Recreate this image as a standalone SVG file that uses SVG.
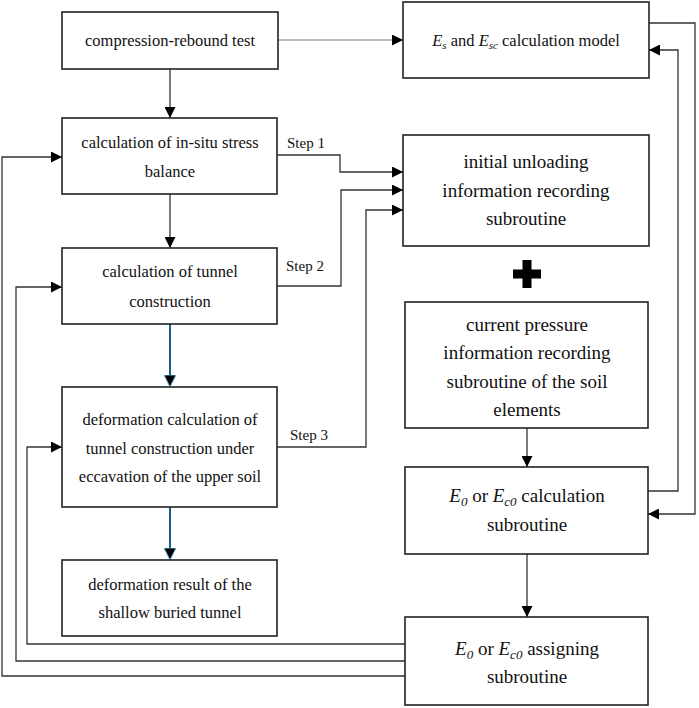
<svg xmlns="http://www.w3.org/2000/svg" width="699" height="708" viewBox="0 0 699 708">
<style>
  .box { fill: #fff; stroke: #222; stroke-width: 1.6; }
  .lbl { fill: #111; text-anchor: middle; font-family: 'Liberation Serif', serif !important; }
  .small { font-size: 16.5px; }
  .large { font-size: 19px; }
  .step { font-size: 15px; fill: #111; font-family: 'Liberation Serif', serif !important; }
  .conn { fill: none; stroke: #333; stroke-width: 1.3; }
  .thin { fill: none; stroke: #777; stroke-width: 1; }
  .blue { fill: none; stroke: #1e5f86; stroke-width: 2; }
  .ital { font-style: italic; }
</style>
<defs>
  <marker id="ah" markerUnits="userSpaceOnUse" markerWidth="11" markerHeight="11" refX="10" refY="5" orient="auto" viewBox="0 0 10 10">
    <path d="M0,0 L10,5 L0,10 z" fill="#000"/>
  </marker>
  <marker id="ahb" markerUnits="userSpaceOnUse" markerWidth="12" markerHeight="12" refX="10" refY="5" orient="auto" viewBox="0 0 10 10">
    <path d="M0,0 L10,5 L0,10 z" fill="#000" stroke="#6fb3dc" stroke-width="0.8"/>
  </marker>
</defs>
<rect width="699" height="708" fill="#fff"/>

<g id="connectors">
  <path class="thin" d="M278,40 H403" marker-end="url(#ah)"/>
  <path class="conn" d="M170,69 V118" marker-end="url(#ah)"/>
  <path class="conn" d="M170,194 V248" marker-end="url(#ah)"/>
  <path class="blue" d="M170,324 V387" marker-end="url(#ahb)"/>
  <path class="blue" d="M170,507 V560" marker-end="url(#ahb)"/>
  <path class="conn" d="M277,155 H340 V172 H403" marker-end="url(#ah)"/>
  <path class="conn" d="M277,286 H341 V190 H403" marker-end="url(#ah)"/>
  <path class="conn" d="M277,447 H366 V210 H403" marker-end="url(#ah)"/>
  <path class="conn" d="M527,428 V467" marker-end="url(#ah)"/>
  <path class="conn" d="M527,554 V617" marker-end="url(#ah)"/>
  <path class="conn" d="M649,23 H695 V514 H648" marker-end="url(#ah)"/>
  <path class="conn" d="M648,491 H678 V50 H649" marker-end="url(#ah)"/>
  <path class="conn" d="M405,644 H27 V447 H62" marker-end="url(#ah)"/>
  <path class="conn" d="M405,661 H16 V287 H62" marker-end="url(#ah)"/>
  <path class="conn" d="M405,676 H2 V157 H62" marker-end="url(#ah)"/>
  <text class="step" x="287" y="148">Step 1</text>
  <text class="step" x="286" y="271">Step 2</text>
  <text class="step" x="290" y="440">Step 3</text>
</g>

<g id="box-test">
  <rect class="box" x="62" y="12" width="216" height="57"/>
  <text class="lbl small" style="font-family:'Liberation Serif',serif" x="170" y="46">compression-rebound test</text>
</g>
<g id="box-stress">
  <rect class="box" x="62" y="118" width="215" height="76"/>
  <text class="lbl small" style="font-family:'Liberation Serif',serif" x="170" y="148">calculation of in-situ stress</text>
  <text class="lbl small" style="font-family:'Liberation Serif',serif" x="170" y="177">balance</text>
</g>
<g id="box-tunnel">
  <rect class="box" x="62" y="248" width="215" height="76"/>
  <text class="lbl small" style="font-family:'Liberation Serif',serif" x="170" y="277">calculation of tunnel</text>
  <text class="lbl small" style="font-family:'Liberation Serif',serif" x="170" y="307">construction</text>
</g>
<g id="box-deform">
  <rect class="box" x="62" y="387" width="215" height="120"/>
  <text class="lbl small" style="font-family:'Liberation Serif',serif" x="170" y="425">deformation calculation of</text>
  <text class="lbl small" style="font-family:'Liberation Serif',serif" x="170" y="454">tunnel construction under</text>
  <text class="lbl small" style="font-family:'Liberation Serif',serif" x="170" y="482">eccavation of the upper soil</text>
</g>
<g id="box-result">
  <rect class="box" x="62" y="560" width="215" height="76"/>
  <text class="lbl small" style="font-family:'Liberation Serif',serif" x="170" y="590">deformation result of the</text>
  <text class="lbl small" style="font-family:'Liberation Serif',serif" x="170" y="618">shallow buried tunnel</text>
</g>

<g id="box-es">
  <rect class="box" x="403" y="2" width="246" height="76"/>
  <text class="lbl small" style="font-family:'Liberation Serif',serif" x="526" y="46"><tspan class="ital">E</tspan><tspan class="ital" font-size="11" dy="3">s</tspan><tspan dy="-3"> and </tspan><tspan class="ital">E</tspan><tspan class="ital" font-size="11" dy="3">sc</tspan><tspan dy="-3"> calculation model</tspan></text>
</g>
<g id="box-unload">
  <rect class="box" x="403" y="135" width="246" height="111"/>
  <text class="lbl large" style="font-family:'Liberation Serif',serif" x="526" y="168">initial unloading</text>
  <text class="lbl large" style="font-family:'Liberation Serif',serif" x="526" y="197">information recording</text>
  <text class="lbl large" style="font-family:'Liberation Serif',serif" x="526" y="225">subroutine</text>
</g>
<g id="plus">
  <rect x="522.5" y="260" width="9" height="28" fill="#000"/>
  <rect x="513" y="269.5" width="28" height="9" fill="#000"/>
</g>
<g id="box-pressure">
  <rect class="box" x="405" y="302" width="243" height="126"/>
  <text class="lbl large" style="font-family:'Liberation Serif',serif" x="527" y="331">current pressure</text>
  <text class="lbl large" style="font-family:'Liberation Serif',serif" x="527" y="359">information recording</text>
  <text class="lbl large" style="font-family:'Liberation Serif',serif" x="527" y="388">subroutine of the soil</text>
  <text class="lbl large" style="font-family:'Liberation Serif',serif" x="527" y="416">elements</text>
</g>
<g id="box-calc">
  <rect class="box" x="405" y="467" width="243" height="87"/>
  <text class="lbl large" style="font-family:'Liberation Serif',serif" x="527" y="502"><tspan class="ital">E</tspan><tspan class="ital" font-size="13" dy="4">0</tspan><tspan dy="-4"> or </tspan><tspan class="ital">E</tspan><tspan class="ital" font-size="13" dy="4">c0</tspan><tspan dy="-4"> calculation</tspan></text>
  <text class="lbl large" style="font-family:'Liberation Serif',serif" x="527" y="531">subroutine</text>
</g>
<g id="box-assign">
  <rect class="box" x="405" y="617" width="243" height="88"/>
  <text class="lbl large" style="font-family:'Liberation Serif',serif" x="527" y="655"><tspan class="ital">E</tspan><tspan class="ital" font-size="13" dy="4">0</tspan><tspan dy="-4"> or </tspan><tspan class="ital">E</tspan><tspan class="ital" font-size="13" dy="4">c0</tspan><tspan dy="-4"> assigning</tspan></text>
  <text class="lbl large" style="font-family:'Liberation Serif',serif" x="527" y="683">subroutine</text>
</g>
</svg>
